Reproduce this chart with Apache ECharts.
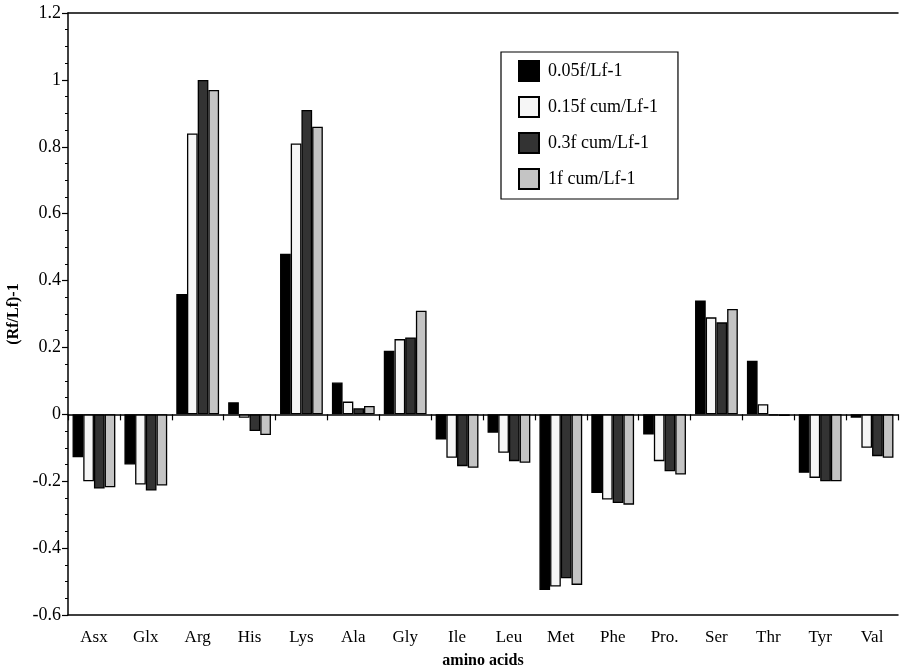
<!DOCTYPE html>
<html>
<head>
<meta charset="utf-8">
<script src="https://cdn.jsdelivr.net/npm/echarts@6/dist/echarts.min.js"></script>
<style>
  html, body { margin: 0; padding: 0; background: #fff; }
  #chart { width: 904px; height: 672px; }
</style>
</head>
<body>
<div id="chart"></div>
<script>
const categories = ['Asx', 'Glx', 'Arg', 'His', 'Lys', 'Ala', 'Gly', 'Ile', 'Leu', 'Met', 'Phe', 'Pro.', 'Ser', 'Thr', 'Tyr', 'Val']

const s005 = [-0.128, -0.15, 0.36, 0.036, 0.48, 0.095, 0.19, -0.075, -0.055, -0.525, -0.235, -0.06, 0.34, 0.16, -0.175, -0.01]
const s015 = [-0.2, -0.21, 0.84, -0.01, 0.81, 0.038, 0.225, -0.13, -0.115, -0.515, -0.255, -0.14, 0.29, 0.03, -0.19, -0.1]
const s03 = [-0.222, -0.228, 1.0, -0.05, 0.91, 0.018, 0.23, -0.155, -0.14, -0.49, -0.265, -0.17, 0.275, -0.003, -0.2, -0.125]
const s1 = [-0.218, -0.213, 0.97, -0.062, 0.86, 0.025, 0.31, -0.16, -0.145, -0.51, -0.27, -0.18, 0.315, -0.005, -0.2, -0.13]

const seriesNames = ['0.05f/Lf-1', '0.15f cum/Lf-1', '0.3f cum/Lf-1', '1f cum/Lf-1']
const seriesData = [s005, s015, s03, s1]
const fills = ['#000000', '#f6f6f6', '#333333', '#c4c4c4']

const font = '"Liberation Serif", "DejaVu Serif", serif'

const chart = echarts.init(document.getElementById('chart'))

chart.setOption({
  backgroundColor: '#ffffff',
  animation: false,
  textStyle: {fontFamily: font, color: '#000'},
  grid: {
    left: 68,
    right: 6,
    top: 13,
    bottom: 57,
    containLabel: false,
    outerBoundsMode: 'none',
  },
  legend: {
    orient: 'vertical',
    left: 501,
    top: 52,
    padding: [8, 20, 9, 17],
    icon: 'rect',
    itemWidth: 20,
    itemHeight: 20,
    itemGap: 14,
    borderColor: '#000',
    borderWidth: 1.2,
    backgroundColor: '#fff',
    data: seriesNames,
    textStyle: {
      fontFamily: font,
      fontSize: 18,
      color: '#000',
      padding: [0, 0, 0, 4],
    },
  },
  xAxis: [{
    type: 'category',
    data: categories,
    position: 'bottom',
    name: 'amino acids',
    nameLocation: 'middle',
    nameGap: 38,
    nameTextStyle: {
      fontFamily: font,
      fontSize: 16,
      fontWeight: 'bold',
      color: '#000',
    },
    axisLine: {
      onZero: false,
      lineStyle: {color: '#000', width: 1.5},
    },
    axisTick: {show: false},
    axisLabel: {
      margin: 14,
      fontFamily: font,
      fontSize: 17,
      color: '#000',
    },
  }, {
    // zero line with ticks between categories
    type: 'category',
    data: categories,
    position: 'bottom',
    axisLine: {
      onZero: true,
      lineStyle: {color: '#000', width: 1.5},
    },
    axisTick: {
      show: true,
      length: 6,
      lineStyle: {color: '#000', width: 1.2},
    },
    axisLabel: {show: false},
  }, {
    // top frame
    type: 'category',
    data: categories,
    position: 'top',
    axisLine: {
      onZero: false,
      lineStyle: {color: '#000', width: 1.5},
    },
    axisTick: {show: false},
    axisLabel: {show: false},
  }],
  yAxis: {
    type: 'value',
    min: -0.6,
    max: 1.2,
    interval: 0.2,
    name: '(Rf/Lf)-1',
    nameLocation: 'middle',
    nameGap: 40,
    nameTextStyle: {
      fontFamily: font,
      fontSize: 16,
      fontWeight: 'bold',
      color: '#000',
    },
    axisLine: {
      show: true,
      lineStyle: {color: '#000', width: 1.5},
    },
    axisTick: {
      show: true,
      length: 6,
      lineStyle: {color: '#000', width: 1.2},
    },
    minorTick: {
      show: true,
      splitNumber: 4,
      length: 3,
      lineStyle: {color: '#000', width: 1},
    },
    splitLine: {show: false},
    axisLabel: {
      margin: 7,
      fontFamily: font,
      fontSize: 18,
      color: '#000',
    },
  },
  series: seriesNames.map((name, i) => ({
    name: name,
    type: 'bar',
    xAxisIndex: 0,
    data: seriesData[i],
    barWidth: 10.7,
    barGap: '0%',
    itemStyle: {
      color: fills[i],
      borderColor: '#000',
      borderWidth: 1.3,
    },
  })),
})
</script>
</body>
</html>
